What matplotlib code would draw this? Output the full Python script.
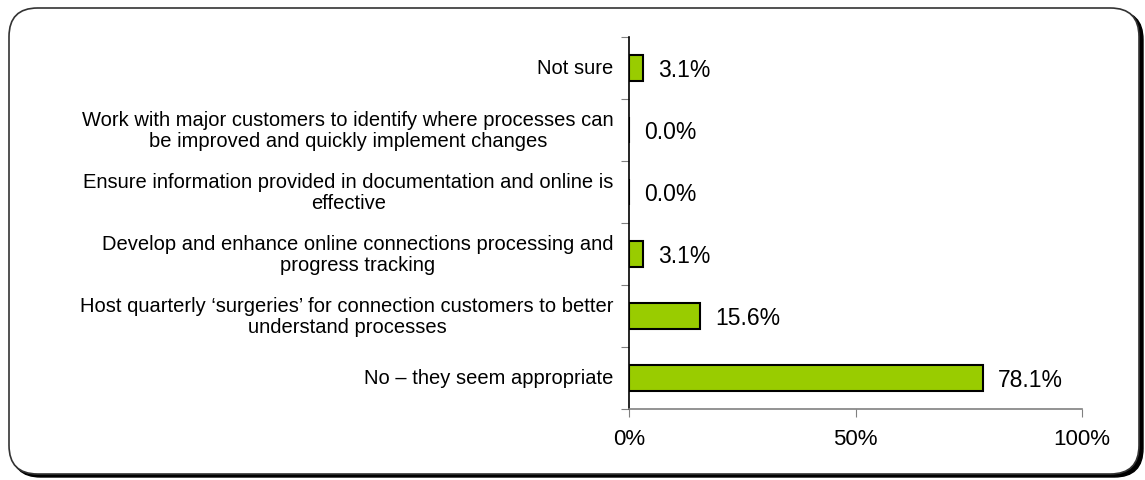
import matplotlib
matplotlib.use("Agg")
import matplotlib.pyplot as plt
from matplotlib.patches import FancyBboxPatch

plt.rcParams['font.family'] = ['Liberation Sans', 'DejaVu Sans']

categories = [
    "No \u2013 they seem appropriate",
    "Host quarterly \u2018surgeries\u2019 for connection customers to better\nunderstand processes",
    "Develop and enhance online connections processing and\nprogress tracking",
    "Ensure information provided in documentation and online is\neffective",
    "Work with major customers to identify where processes can\nbe improved and quickly implement changes",
    "Not sure",
]
values = [78.1, 15.6, 3.1, 0.0, 0.0, 3.1]
xticks = [0, 50, 100]
xtick_labels = ["0%", "50%", "100%"]

fig = plt.figure(figsize=(11.45, 4.81), dpi=100)

# rounded frame with shadow
shadow = FancyBboxPatch((12 / 1145, 3 / 481), 1131 / 1145, 466 / 481,
                        boxstyle="round,pad=0,rounding_size=0.025",
                        transform=fig.transFigure, facecolor="black",
                        edgecolor="black", mutation_aspect=1145 / 481,
                        zorder=-3)
frame = FancyBboxPatch((9 / 1145, 6 / 481), 1130 / 1145, 466 / 481,
                       boxstyle="round,pad=0,rounding_size=0.025",
                       transform=fig.transFigure, facecolor="white",
                       edgecolor="#333333", linewidth=1.2,
                       mutation_aspect=1145 / 481, zorder=-2)
fig.add_artist(shadow)
fig.add_artist(frame)

ax = fig.add_axes([629 / 1145, 1 - 410 / 481, 453 / 1145, 372 / 481])
ax.patch.set_alpha(0)

y = range(len(categories))
ax.barh(y, values, height=0.42, color="#99CC00", edgecolor="black", linewidth=1.5)

ax.set_xlim(0, 100)
ax.set_ylim(-0.5, len(categories) - 0.5)

for spine in ["top", "right"]:
    ax.spines[spine].set_visible(False)
ax.spines["bottom"].set_color("#808080")
ax.spines["bottom"].set_linewidth(1.2)
ax.spines["left"].set_color("black")
ax.spines["left"].set_linewidth(1.2)

ax.set_xticks(xticks)
ax.set_xticklabels(xtick_labels, fontsize=16)
ax.tick_params(axis="x", length=6, color="#808080", pad=8)

ax.set_yticks([i - 0.5 for i in range(len(categories) + 1)])
ax.set_yticklabels([])
ax.tick_params(axis="y", length=6, color="#808080")

for i, (cat, v) in enumerate(zip(categories, values)):
    ax.annotate(cat, xy=(0, i), xycoords=("axes fraction", "data"),
                xytext=(-11, 0), textcoords="offset points",
                ha="right", va="center", multialignment="center",
                fontsize=14.5, linespacing=1.15)
    ax.annotate(f"{v:.1f}%", xy=(v, i), xytext=(11, -1),
                textcoords="offset points", ha="left", va="center",
                fontsize=16.5)

fig.savefig("out.png", dpi=100)
